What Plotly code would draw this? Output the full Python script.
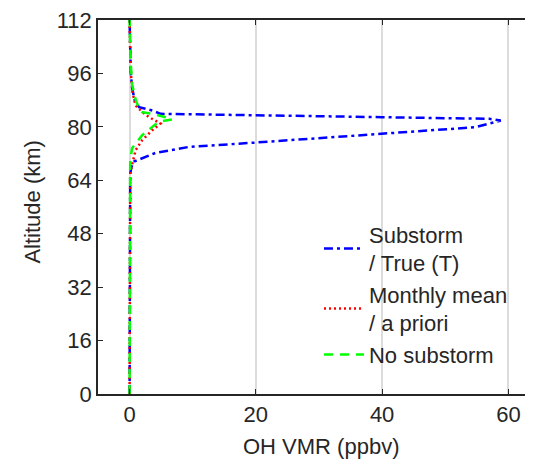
import plotly.graph_objects as go

# Substorm / True (T)
alt_sub = [0, 10, 20, 30, 40, 50, 60, 66, 68, 69.6, 72.2, 74, 75.3, 77.9, 79.9, 81.9,
           82.4, 82.9, 83.4, 83.9, 84.9, 85.9, 88, 91.8, 96, 104, 112]
vmr_sub = [0, 0, 0, 0, 0, 0, 0, 0.1, 0.3, 0.7, 4.1, 9.4, 20, 40, 54.8, 58.8,
           57, 40, 20, 4.9, 3.6, 1.5, 0.8, 0.4, 0.2, 0.05, 0]

# Monthly mean / a priori
alt_mean = [0, 10, 20, 30, 40, 50, 60, 66, 68.6, 71, 73, 76, 79, 81,
            82, 83, 84.5, 86.4, 90, 95, 104, 112]
vmr_mean = [0, 0, 0, 0, 0, 0, 0, 0.1, 0.4, 0.7, 0.95, 2.0, 3.6, 4.9,
            3.85, 3.0, 2.0, 0.95, 0.5, 0.25, 0.08, 0]

# No substorm
alt_no = [0, 10, 20, 30, 40, 50, 60, 70, 73.6, 77.5, 80, 81.5, 82.2, 82.9, 83.9,
          84.4, 86, 87.9, 92.7, 100, 112]
vmr_no = [0, 0, 0, 0, 0, 0, 0, 0.1, 0.4, 2.0, 3.6, 4.6, 6.75, 5.7, 3.6,
          2.0, 1.4, 1.0, 0.4, 0.15, 0]

x_ticks = [0, 20, 40, 60]
y_ticks = [0, 16, 32, 48, 64, 80, 96, 112]

FONT = "Liberation Sans, Arial, sans-serif"
TXT = "#262626"
FS = 22

fig = go.Figure()
fig.add_trace(go.Scatter(x=vmr_sub, y=alt_sub, mode="lines",
                         name="Substorm<br>/ True (T)",
                         line=dict(color="#0000ff", width=2.5, dash="9px,4px,3px,4px")))
fig.add_trace(go.Scatter(x=vmr_mean, y=alt_mean, mode="lines",
                         name="Monthly mean<br>/ a priori",
                         line=dict(color="#ff0000", width=2.5, dash="2px,3px")))
fig.add_trace(go.Scatter(x=vmr_no, y=alt_no, mode="lines",
                         name="No substorm",
                         line=dict(color="#00ff00", width=2.5, dash="9px,7px")))

fig.update_layout(
    width=525, height=455,
    margin=dict(l=90, r=0, t=7, b=69),
    paper_bgcolor="white", plot_bgcolor="white",
    font=dict(family=FONT, size=FS, color=TXT),
    showlegend=True,
    legend=dict(x=0.508, y=0.05, xanchor="left", yanchor="bottom",
                bgcolor="rgba(0,0,0,0)", font=dict(size=FS, color=TXT),
                tracegroupgap=0, itemwidth=40),
    xaxis=dict(range=[-5, 63.9], tickvals=x_ticks, ticks="inside", ticklen=5,
               tickcolor=TXT, showline=True, linecolor=TXT, linewidth=1.5,
               mirror="ticks", showgrid=True, gridcolor="#dcdcdc", gridwidth=2,
               zeroline=False, tickfont=dict(size=FS, color=TXT)),
    yaxis=dict(range=[0, 112], tickvals=y_ticks, ticks="inside", ticklen=5,
               tickcolor=TXT, showline=True, linecolor=TXT, linewidth=1.5,
               mirror=False, showgrid=False, zeroline=False,
               ticklabeloverflow="allow",
               tickfont=dict(size=FS, color=TXT)),
    annotations=[
        dict(text="OH VMR (ppbv)", xref="paper", yref="paper",
             x=(321 - 98) / 435, y=-(447 - 394) / 379, xanchor="center", yanchor="middle",
             showarrow=False, font=dict(size=FS, color=TXT)),
        dict(text="Altitude (km)", xref="paper", yref="paper",
             x=(33 - 98) / 435, y=(394 - 200) / 379, xanchor="center", yanchor="middle",
             textangle=-90, showarrow=False, font=dict(size=FS, color=TXT)),
    ],
)

fig.write_html("out.html")
